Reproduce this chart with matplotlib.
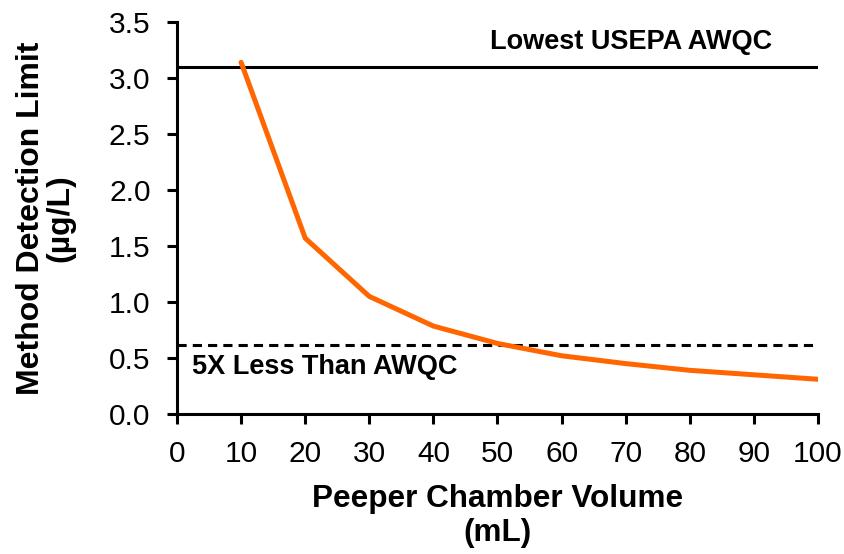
import matplotlib
matplotlib.use("Agg")
import matplotlib.pyplot as plt

# chamber volume (mL) vs method detection limit (ug/L)
volumes = [10, 20, 30, 40, 50, 60, 70, 80, 90, 100]
mdl = [3.14, 1.57, 1.05, 0.785, 0.63, 0.52, 0.45, 0.39, 0.35, 0.31]

awqc = 3.1
awqc_5x = 0.62

x_ticks = list(range(0, 101, 10))
y_ticks = [0.0, 0.5, 1.0, 1.5, 2.0, 2.5, 3.0, 3.5]


def main():
	plt.rcParams['font.family'] = ['Liberation Sans', 'DejaVu Sans']
	fig = plt.figure(figsize=(8.44, 5.54), dpi=100)
	ax = fig.add_axes([0.2097, 0.2527, 0.7595, 0.7076])

	ax.axhline(awqc, color='black', lw=2.2)
	ax.axhline(awqc_5x, color='black', lw=2.2, ls=(0, (3, 2)))
	ax.plot(volumes, mdl, color='#ff6600', lw=3.6, solid_capstyle='round')

	ax.text(70.8, 3.32, 'Lowest USEPA AWQC', ha='center', va='center',
		fontsize=19.5, fontweight='bold')
	ax.text(2.4, 0.42, '5X Less Than AWQC', ha='left', va='center',
		fontsize=19.5, fontweight='bold')

	ax.set_xlim(0, 100)
	ax.set_ylim(0, 3.5)
	ax.set_xticks(x_ticks)
	ax.set_yticks(y_ticks)
	ax.set_yticklabels([f'{v:.1f}' for v in y_ticks])
	ax.tick_params(labelsize=21.5, width=2.2, length=7, direction='out')
	ax.tick_params(axis='y', pad=12)
	ax.tick_params(axis='x', pad=12)
	for s in ['top', 'right']:
		ax.spines[s].set_visible(False)
	for s in ['left', 'bottom']:
		ax.spines[s].set_linewidth(2.2)

	ax.set_xlabel('Peeper Chamber Volume\n(mL)', fontsize=22.7, fontweight='bold',
		labelpad=11, linespacing=1.2)
	ax.set_ylabel('Method Detection Limit\n(µg/L)', fontsize=23, fontweight='bold',
		labelpad=24, linespacing=1.0)

	fig.savefig('out.png', dpi=100)


if __name__ == "__main__":
	main()
